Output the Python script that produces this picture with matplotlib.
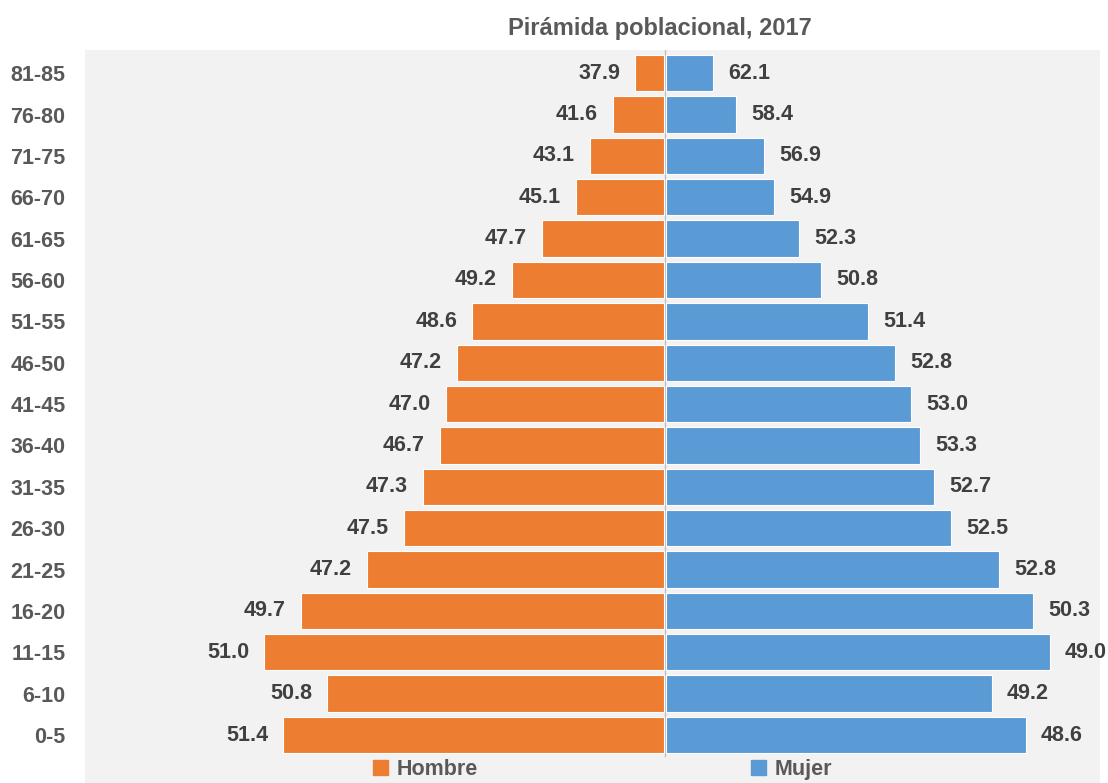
import numpy as np
import matplotlib
matplotlib.use("Agg")
import matplotlib.pyplot as plt
from matplotlib.patches import Patch

plt.rcParams['font.family'] = ['Liberation Sans Narrow', 'Liberation Sans', 'DejaVu Sans']

# grupos de edad, de abajo hacia arriba
edades = ['0-5', '6-10', '11-15', '16-20', '21-25', '26-30', '31-35', '36-40',
          '41-45', '46-50', '51-55', '56-60', '61-65', '66-70', '71-75', '76-80', '81-85']
# largo de barras (poblacion, unidades relativas)
hombres = [381, 337, 400, 363, 297, 260, 241, 224, 218, 207, 192, 152, 122, 88, 74, 51, 29]
mujeres = [360, 326, 384, 367, 333, 285, 268, 254, 245, 229, 202, 155, 133, 108, 98, 70, 47]
# porcentaje por sexo dentro de cada grupo
pct_h = [51.4, 50.8, 51.0, 49.7, 47.2, 47.5, 47.3, 46.7, 47.0, 47.2, 48.6, 49.2, 47.7, 45.1, 43.1, 41.6, 37.9]
pct_m = [48.6, 49.2, 49.0, 50.3, 52.8, 52.5, 52.7, 53.3, 53.0, 52.8, 51.4, 50.8, 52.3, 54.9, 56.9, 58.4, 62.1]

naranja = '#ED7D31'
azul = '#5B9BD5'
gris = '#595959'

fig = plt.figure(figsize=(11.08, 7.83), dpi=100)
ax = fig.add_axes([85/1108, 0, (1100-85)/1108, 1 - 50/783])
ax.set_facecolor('#F2F2F2')

y = np.arange(len(edades))
ax.barh(y, -np.array(hombres), height=0.88, color=naranja, edgecolor='white', linewidth=0.8, left=-1)
ax.barh(y, mujeres, height=0.88, color=azul, edgecolor='white', linewidth=0.8, left=1)
ax.plot([0, 0], [-0.5, 16.6], color='#BFBFBF', linewidth=1, zorder=0)

for i in range(len(edades)):
    ax.text(-hombres[i] - 16, y[i], f'{pct_h[i]:.1f}', ha='right', va='center',
            fontsize=15.5, fontweight='bold', color='#404040')
    ax.text(mujeres[i] + 16, y[i], f'{pct_m[i]:.1f}', ha='left', va='center',
            fontsize=15.5, fontweight='bold', color='#404040')

ax.set_xlim(-580, 435)
ax.set_ylim(-1.16, 16.56)
ax.set_yticks(y)
ax.set_yticklabels(edades, fontsize=15.5, fontweight='bold', color=gris)
ax.tick_params(axis='y', length=0, pad=14)
ax.set_xticks([])
for s in ax.spines.values():
    s.set_visible(False)

fig.text(660/1108, 1 - 28/783, 'Pirámida poblacional, 2017', ha='center', va='center',
         fontsize=17, fontweight='bold', color=gris)

ley = [Patch(color=naranja, label='Hombre'), Patch(color=azul, label='Mujer')]
ax.legend(handles=ley, loc='lower center', bbox_to_anchor=(0.51, -0.022), ncol=2,
          frameon=False, handlelength=0.7, handleheight=0.7, columnspacing=12.7,
          handletextpad=0.4, prop={'size': 15.5, 'weight': 'bold'}, labelcolor=gris)

fig.savefig('out.png', dpi=100)
